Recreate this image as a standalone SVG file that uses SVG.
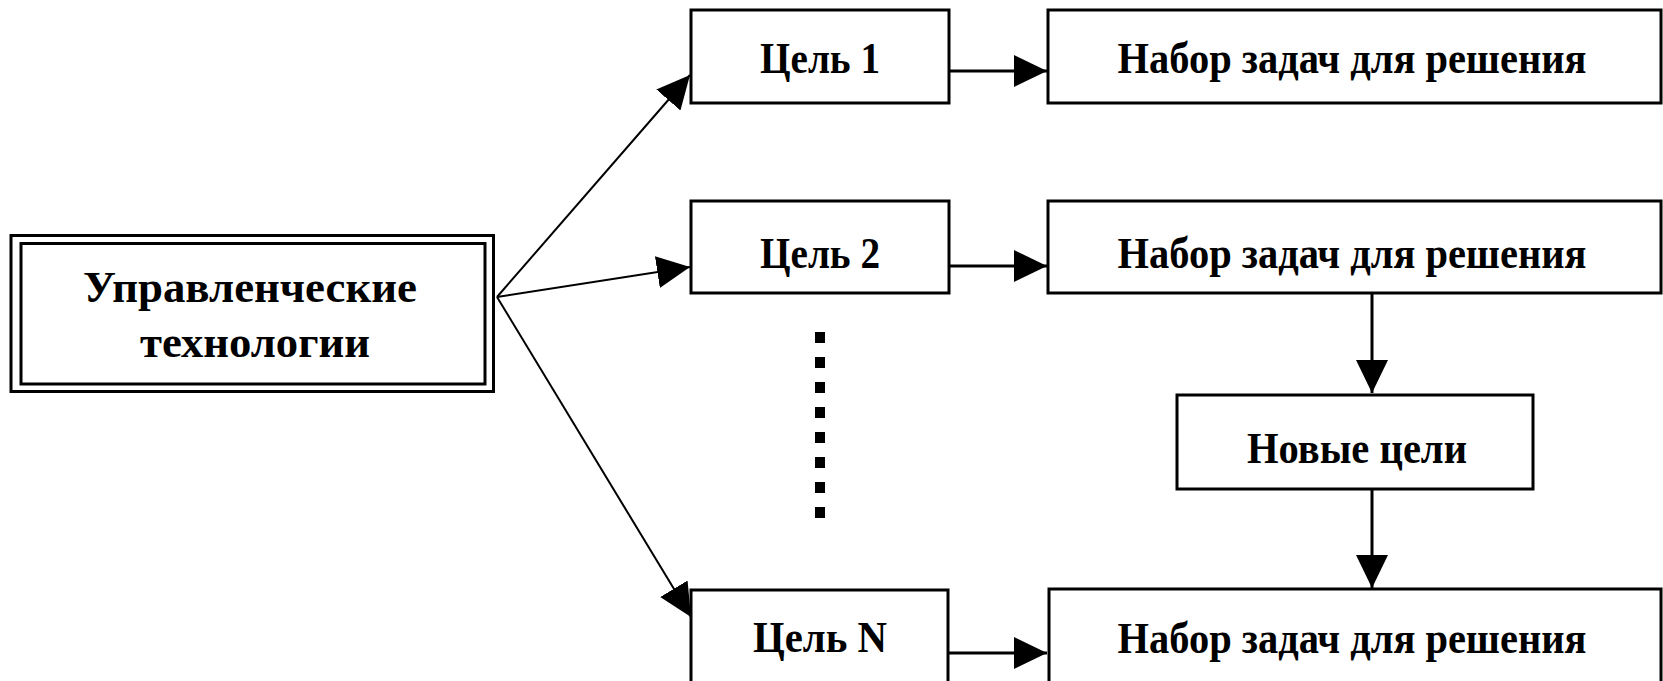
<svg xmlns="http://www.w3.org/2000/svg" width="1663" height="681" viewBox="0 0 1663 681">
<style>
.box{fill:#fff;stroke:#000;stroke-width:3}
.t{font-family:"Liberation Serif","Times New Roman",serif;font-weight:bold;font-size:45px;fill:#000;text-anchor:middle}
.c{fill:none;stroke:#000;stroke-width:3}
.d{fill:none;stroke:#000;stroke-width:2}
</style>
<defs>
<marker id="ah" markerUnits="userSpaceOnUse" markerWidth="34" markerHeight="34" refX="33" refY="16" orient="auto">
<path d="M0,0 L33,16 L0,32 z" fill="#000"/>
</marker>
</defs>
<rect width="1663" height="681" fill="#fff"/>
<g id="connectors">
<line class="d" x1="497" y1="297" x2="690" y2="75" marker-end="url(#ah)"/>
<line class="d" x1="497" y1="297" x2="690" y2="267" marker-end="url(#ah)"/>
<line class="d" x1="497" y1="297" x2="691" y2="617" marker-end="url(#ah)"/>
<line class="c" x1="949" y1="71" x2="1047" y2="71" marker-end="url(#ah)"/>
<line class="c" x1="949" y1="266" x2="1047" y2="266" marker-end="url(#ah)"/>
<line class="c" x1="949" y1="653" x2="1047" y2="653" marker-end="url(#ah)"/>
<line class="c" x1="1372" y1="294" x2="1372" y2="393" marker-end="url(#ah)"/>
<line class="c" x1="1372" y1="489" x2="1372" y2="588" marker-end="url(#ah)"/>
<line x1="820" y1="332" x2="820" y2="518" stroke="#000" stroke-width="10" stroke-dasharray="11 14"/>
</g>
<g id="main">
<rect class="box" x="11" y="235.5" width="482.5" height="156"/>
<rect class="box" x="21" y="243.5" width="464" height="140.5"/>
<text class="t" x="250" y="302" textLength="334" lengthAdjust="spacingAndGlyphs">Управленческие</text>
<text class="t" x="255" y="357" textLength="230" lengthAdjust="spacingAndGlyphs">технологии</text>
</g>
<g id="goal1">
<rect class="box" x="691" y="10" width="258" height="93"/>
<text class="t" x="820" y="73" textLength="120" lengthAdjust="spacingAndGlyphs">Цель 1</text>
</g>
<g id="tasks1">
<rect class="box" x="1048" y="10" width="613" height="93"/>
<text class="t" x="1352" y="73" textLength="469" lengthAdjust="spacingAndGlyphs">Набор задач для решения</text>
</g>
<g id="goal2">
<rect class="box" x="691" y="201" width="258" height="92"/>
<text class="t" x="820" y="268" textLength="120" lengthAdjust="spacingAndGlyphs">Цель 2</text>
</g>
<g id="tasks2">
<rect class="box" x="1048" y="201" width="613" height="92"/>
<text class="t" x="1352" y="268" textLength="469" lengthAdjust="spacingAndGlyphs">Набор задач для решения</text>
</g>
<g id="newgoals">
<rect class="box" x="1177" y="395" width="356" height="94"/>
<text class="t" x="1357" y="463" textLength="220" lengthAdjust="spacingAndGlyphs">Новые цели</text>
</g>
<g id="goalN">
<rect class="box" x="691" y="590" width="257" height="100"/>
<text class="t" x="820" y="652" textLength="134" lengthAdjust="spacingAndGlyphs">Цель N</text>
</g>
<g id="tasks3">
<rect class="box" x="1049" y="589" width="612" height="100"/>
<text class="t" x="1352" y="653" textLength="469" lengthAdjust="spacingAndGlyphs">Набор задач для решения</text>
</g>
</svg>
